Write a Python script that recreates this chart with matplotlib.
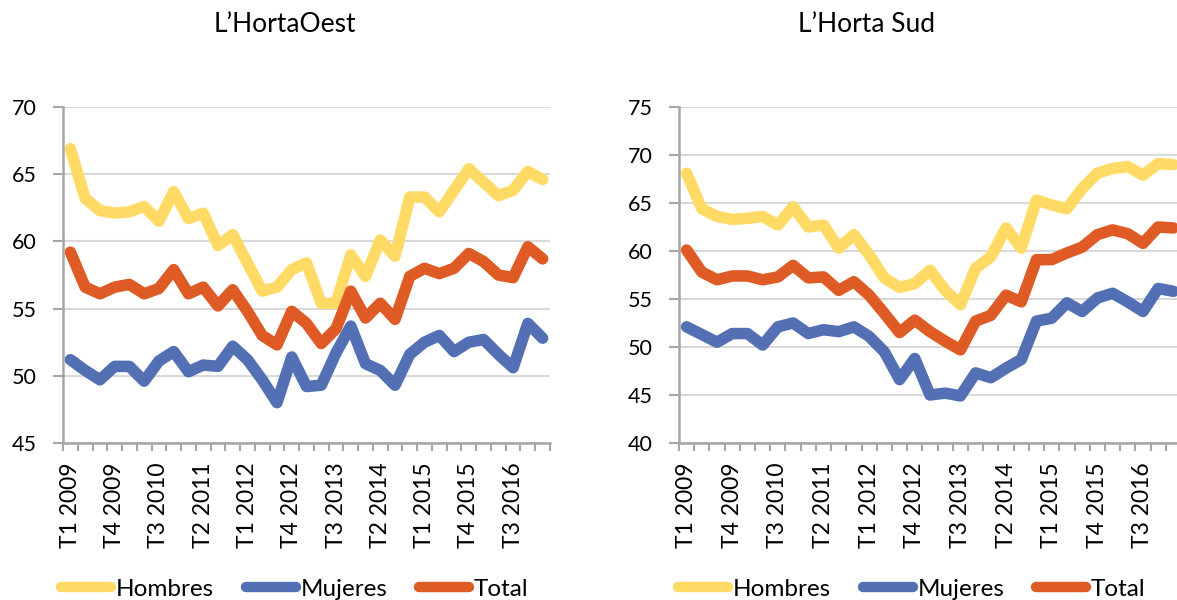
import numpy as np
import matplotlib.pyplot as plt

# quarters T1 2009 .. T1 2017 (33 points), labels every 3rd quarter
quarters = [f"T{q} {y}" for y in range(2009, 2018) for q in range(1, 5)][:33]

oest_hombres = [66.9, 63.2, 62.3, 62.1, 62.2, 62.6, 61.5, 63.7, 61.7, 62.1, 59.7,
                60.5, 58.4, 56.3, 56.6, 57.9, 58.4, 55.4, 55.4, 59.0, 57.4, 60.1,
                58.9, 63.3, 63.3, 62.2, 63.8, 65.4, 64.4, 63.4, 63.8, 65.2, 64.6]
oest_mujeres = [51.2, 50.4, 49.7, 50.7, 50.7, 49.6, 51.1, 51.8, 50.3, 50.8, 50.7,
                52.2, 51.2, 49.7, 48.0, 51.4, 49.2, 49.3, 51.7, 53.7, 50.9, 50.4,
                49.3, 51.6, 52.5, 53.0, 51.8, 52.5, 52.7, 51.6, 50.6, 53.9, 52.8]
oest_total = [59.2, 56.6, 56.1, 56.6, 56.8, 56.1, 56.5, 57.9, 56.1, 56.6, 55.2,
              56.4, 54.8, 53.0, 52.3, 54.8, 53.9, 52.4, 53.5, 56.3, 54.3, 55.4,
              54.2, 57.4, 58.0, 57.6, 58.0, 59.1, 58.5, 57.5, 57.3, 59.6, 58.7]

sud_hombres = [68.1, 64.4, 63.6, 63.3, 63.4, 63.6, 62.7, 64.6, 62.5, 62.7, 60.3,
               61.7, 59.6, 57.2, 56.2, 56.6, 58.0, 55.9, 54.4, 58.2, 59.4, 62.4,
               60.3, 65.3, 64.8, 64.4, 66.5, 68.1, 68.6, 68.8, 67.9, 69.1, 69.0]
sud_mujeres = [52.1, 51.3, 50.5, 51.4, 51.4, 50.2, 52.1, 52.5, 51.4, 51.8, 51.6,
               52.1, 51.1, 49.5, 46.6, 48.8, 45.0, 45.2, 44.9, 47.3, 46.8, 47.8,
               48.7, 52.7, 53.0, 54.6, 53.7, 55.1, 55.6, 54.7, 53.7, 56.1, 55.8]
sud_total = [60.1, 57.8, 57.0, 57.4, 57.4, 57.0, 57.3, 58.5, 57.2, 57.3, 55.9,
             56.8, 55.4, 53.5, 51.5, 52.8, 51.6, 50.6, 49.7, 52.7, 53.3, 55.4,
             54.7, 59.1, 59.1, 59.8, 60.4, 61.7, 62.2, 61.8, 60.8, 62.5, 62.4]

series_names = ["Hombres", "Mujeres", "Total"]
colors = ["#FFDB66", "#5470B4", "#DF5B25"]

plt.rcParams["font.family"] = ["Lato", "DejaVu Sans"]

W, H = 1177, 600
fig = plt.figure(figsize=(W / 100, H / 100), dpi=100)


def px_axes(x0, x1, y0, y1):
    return fig.add_axes([x0 / W, 1 - y1 / H, (x1 - x0) / W, (y1 - y0) / H])


def draw_panel(ax, data, ymin, ymax, leg_x):
    n = len(quarters)
    x = np.arange(n) + 0.5
    for vals, name, c in zip(data, series_names, colors):
        ax.plot(x, vals, color=c, lw=8.3, label=name,
                solid_joinstyle="round", solid_capstyle="round")
    ax.set_xlim(0, n)
    ax.set_ylim(ymin, ymax)
    ax.set_yticks(np.arange(ymin, ymax + 1, 5))
    ax.yaxis.grid(True, color="#D9D9D9", lw=1.5)
    ax.set_axisbelow(True)
    for s in ("top", "right"):
        ax.spines[s].set_visible(False)
    for s in ("left", "bottom"):
        ax.spines[s].set_color("#A6A6A6")
        ax.spines[s].set_linewidth(1.8)
    ax.set_xticks(np.arange(0, n + 1), minor=True)
    ax.set_xticks(x[::3])
    ax.set_xticklabels(quarters[::3], rotation=90)
    ax.tick_params(axis="x", which="major", length=0, pad=14, labelsize=16.5)
    ax.tick_params(axis="x", which="minor", length=6, width=1.5,
                   color="#A6A6A6", direction="out")
    ax.tick_params(axis="y", length=7, width=1.5, color="#A6A6A6",
                   pad=12, labelsize=15.5)
    leg = ax.legend(loc="upper center", bbox_to_anchor=(leg_x, -0.375), ncol=3,
                    frameon=False, fontsize=17.5, handlelength=2.05,
                    handletextpad=0.2, columnspacing=1.3, borderaxespad=0)
    for h in leg.get_lines():
        h.set_linewidth(7.5)
        h.set_solid_capstyle("round")
    return leg


ax1 = px_axes(63, 550, 107, 443)
draw_panel(ax1, [oest_hombres, oest_mujeres, oest_total], 45, 70, 0.476)
ax2 = px_axes(679, 1181, 107, 443)
draw_panel(ax2, [sud_hombres, sud_mujeres, sud_total], 40, 75, 0.464)

fig.text(285 / W, 1 - 25 / H, "L’HortaOest", ha="center", va="center", fontsize=19)
fig.text(866 / W, 1 - 25 / H, "L’Horta Sud", ha="center", va="center", fontsize=19)

fig.savefig("out.png", dpi=100)
